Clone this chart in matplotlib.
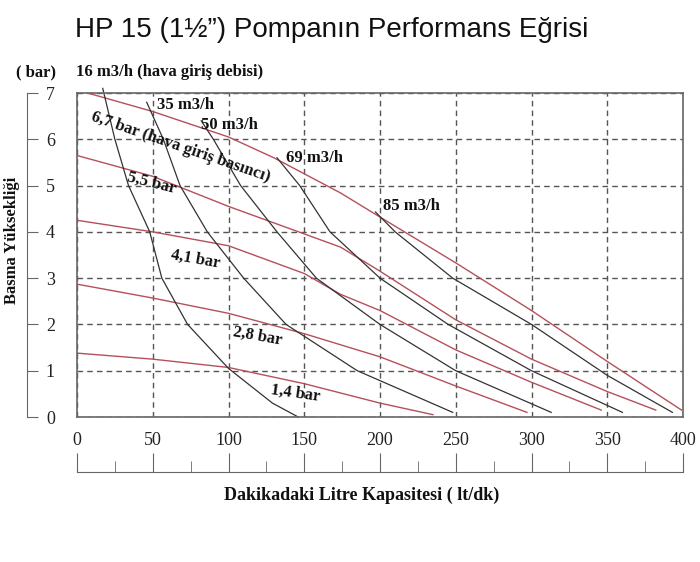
import numpy as np
import matplotlib
matplotlib.use("Agg")
import matplotlib.pyplot as plt
from matplotlib.ticker import MultipleLocator

INK, RED = "#333333", "#b5505a"
SERIF = "Liberation Serif"

# pressure curves (air inlet pressure), x = lt/dk, y = bar
p67_x = [7, 50, 100, 130, 174, 200, 250, 300, 350, 399]
p67_y = [7.0, 6.6, 6.05, 5.6, 4.84, 4.32, 3.33, 2.3, 1.2, 0.15]
p55_x = [0, 50, 100, 174, 200, 250, 300, 350, 382]
p55_y = [5.65, 5.2, 4.55, 3.67, 3.15, 2.1, 1.25, 0.55, 0.15]
p41_x = [0, 50, 100, 150, 174, 200, 250, 300, 346]
p41_y = [4.25, 4.0, 3.7, 3.1, 2.65, 2.3, 1.45, 0.75, 0.15]
p28_x = [0, 50, 100, 150, 200, 250, 297]
p28_y = [2.87, 2.57, 2.24, 1.8, 1.3, 0.67, 0.1]
p14_x = [0, 50, 100, 150, 200, 235]
p14_y = [1.38, 1.25, 1.07, 0.72, 0.3, 0.05]

# air consumption curves (m3/h)
f16_x = [17, 25, 34, 48, 56, 73, 100, 129, 146]
f16_y = [7.1, 6.0, 5.0, 4.0, 3.0, 2.0, 1.05, 0.3, 0.0]
f35_x = [46, 57, 68, 86, 110, 138, 185, 248]
f35_y = [6.8, 6.0, 5.0, 4.0, 3.0, 2.0, 1.0, 0.1]
f50_x = [82, 90, 108, 132, 158, 200, 250, 313]
f50_y = [6.4, 6.0, 5.0, 4.0, 3.0, 2.0, 1.0, 0.1]
f69_x = [132, 147, 167, 200, 245, 300, 360]
f69_y = [5.6, 5.0, 4.0, 3.0, 2.0, 1.0, 0.1]
f85_x = [197, 210, 248, 300, 350, 393]
f85_y = [4.43, 4.0, 3.0, 2.0, 0.9, 0.1]

W, H = 700, 562
fig = plt.figure(figsize=(7, 5.62), dpi=100)
L, R, B, T = 77, 683, 417, 93
ax = fig.add_axes([L / W, 1 - B / H, (R - L) / W, (B - T) / H])
ax.set_xlim(0, 400); ax.set_ylim(0, 7)
ax.xaxis.set_major_locator(MultipleLocator(50))
ax.yaxis.set_major_locator(MultipleLocator(1))
ax.grid(True, ls=(0, (4, 3)), color="#555555", lw=1)
for s in ax.spines.values():
    s.set_color("#666666"); s.set_linewidth(1.2)
ax.tick_params(length=0, labelsize=13, colors="#222222")
ax.tick_params(axis="y", pad=16)
ax.tick_params(axis="x", pad=11)
for lab in ax.get_xticklabels() + ax.get_yticklabels():
    lab.set_fontfamily(SERIF)

for x, y in [(p67_x, p67_y), (p55_x, p55_y), (p41_x, p41_y), (p28_x, p28_y), (p14_x, p14_y)]:
    ax.plot(x, y, color=RED, lw=1)
for x, y in [(f16_x, f16_y), (f35_x, f35_y), (f50_x, f50_y), (f69_x, f69_y), (f85_x, f85_y)]:
    ax.plot(x, y, color=INK, lw=0.9, clip_on=False)

bold = dict(fontfamily=SERIF, fontweight="bold", fontsize=12, color="#111111")
ax.text(8, 6.65, "6,7 bar (hava giriş basıncı)", rotation=-19, va="top", ha="left", **bold)
ax.text(32, 5.05, "5,5 bar", rotation=-14, va="center", **bold)
ax.text(61, 3.4, "4,1 bar", rotation=-10, va="center", **bold)
ax.text(102, 1.75, "2,8 bar", rotation=-10, va="center", **bold)
ax.text(127, 0.5, "1,4 bar", rotation=-8, va="center", **bold)
ax.text(53, 6.75, "35 m3/h", va="center", **bold)
ax.text(82, 6.3, "50 m3/h", va="center", **bold)
ax.text(138, 5.6, "69 m3/h", va="center", **bold)
ax.text(202, 4.55, "85 m3/h", va="center", **bold)
fig.text(16 / W, 1 - 72 / H, "( bar)", ha="left", va="center", **bold)
fig.text(76 / W, 1 - 72 / H, "16 m3/h (hava giriş debisi)", ha="left", va="center", **bold)

# detached scale lines
axl = fig.add_axes([27 / W, 1 - B / H, 0.0001, (B - T) / H])
axl.set_ylim(0, 7); axl.yaxis.set_major_locator(MultipleLocator(1))
axl.set_xticks([]); axl.set_yticklabels([])
for k in ("top", "bottom", "right"):
    axl.spines[k].set_visible(False)
axl.spines["left"].set_color("#666666")
axl.tick_params(axis="y", direction="in", length=8, color="#666666")
axl.patch.set_visible(False)

axb = fig.add_axes([L / W, 1 - 472 / H, (R - L) / W, 0.0001])
axb.set_xlim(0, 400)
axb.xaxis.set_major_locator(MultipleLocator(50))
axb.xaxis.set_minor_locator(MultipleLocator(25))
axb.set_yticks([]); axb.set_xticklabels([])
for k in ("top", "left", "right"):
    axb.spines[k].set_visible(False)
axb.spines["bottom"].set_color("#666666")
axb.tick_params(axis="x", which="major", direction="in", length=14, color="#666666")
axb.tick_params(axis="x", which="minor", direction="in", length=8, color="#666666")
axb.patch.set_visible(False)

fig.text(12 / W, 1 - 240 / H, "Basma Yüksekliği", rotation=90, ha="center", va="center",
         fontfamily=SERIF, fontweight="bold", fontsize=12, color="#111111")
fig.text(362 / W, 1 - 495 / H, "Dakikadaki Litre Kapasitesi ( lt/dk)", ha="center", va="center",
         fontfamily=SERIF, fontweight="bold", fontsize=13, color="#111111")
fig.text(75 / W, 1 - 30 / H, "HP 15 (1½”) Pompanın Performans Eğrisi", ha="left", va="center",
         fontfamily="Liberation Sans", fontsize=20, color="#111111")

fig.savefig("out.png", dpi=100, facecolor="white")
